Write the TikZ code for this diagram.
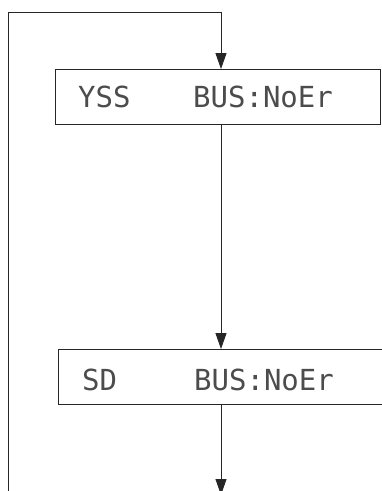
\documentclass[tikz,border=0pt]{standalone}
\usepackage{fontspec}
\newfontfamily\lcdfont{DejaVu Sans Mono}
\usetikzlibrary{arrows.meta}
\begin{document}
\begin{tikzpicture}[x=1pt,y=-1pt,
  line/.style={line width=0.9pt, draw=black!85},
  arr/.style={line, -{Triangle[length=16pt,width=11pt]}},
  box/.style={draw=black!85, line width=0.9pt, rectangle, minimum width=325pt, minimum height=55pt, inner sep=0pt},
  lcd/.style={font=\lcdfont\fontsize{29}{32}\selectfont, text=black!70, inner sep=0pt, anchor=west}]
\useasboundingbox (0,0) rectangle (382,491);
\clip (0,0) rectangle (382,491);
\node[box] (b1) at (217.5,97) {};
\node[lcd] (t1a) at (78,97) {YSS};
\node[lcd] (t1b) at (193,97) {BUS:NoEr};
\node[box] (b2) at (220.5,377) {};
\node[lcd] (t2a) at (82,380) {SD};
\node[lcd] (t2b) at (194,380) {BUS:NoEr};
\coordinate (tl) at (8,12);
\coordinate (bl) at (8,500);
\coordinate (tr) at (221,12);
\coordinate (endp) at (221,495);
\draw[arr] (bl) -- (tl) -- (tr) -- (tr |- b1.north);
\draw[arr] (tr |- b1.south) -- (tr |- b2.north);
\draw[arr] (tr |- b2.south) -- (endp);
\end{tikzpicture}
\end{document}
